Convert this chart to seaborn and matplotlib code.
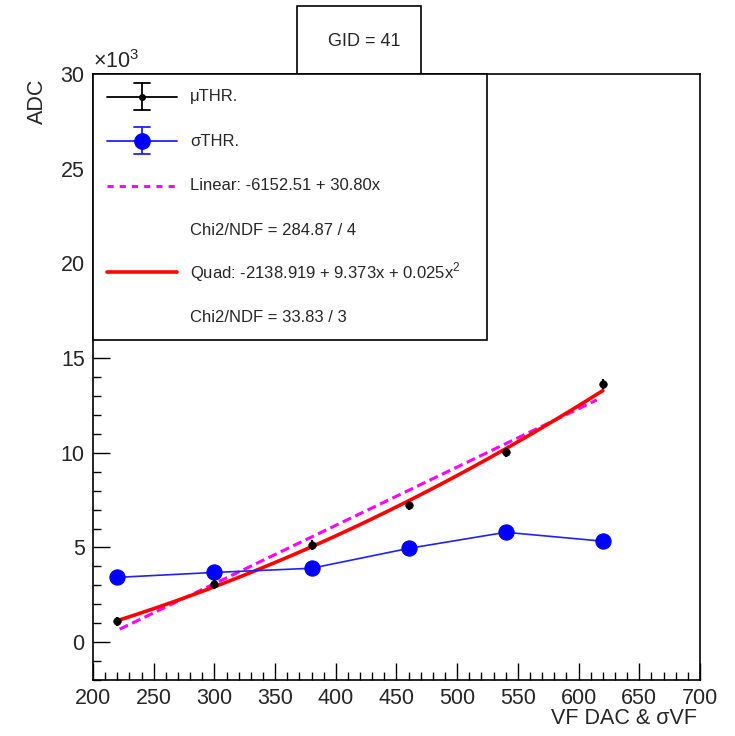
import numpy as np
import pandas as pd
import matplotlib
matplotlib.use("Agg")
import matplotlib.pyplot as plt
import seaborn as sns
from matplotlib.lines import Line2D
from matplotlib.patches import Rectangle
from matplotlib.ticker import MultipleLocator, FuncFormatter

# ---- data ----
vf_dac = [220, 300, 380, 460, 540, 620]
mu_thr = [1100, 3070, 5120, 7220, 10020, 13620]
mu_err = [250, 250, 250, 250, 250, 250]
sigma_thr = [3420, 3680, 3900, 4950, 5800, 5330]

lin_coef = [-6152.51, 30.80]            # a + b x
quad_coef = [-2138.919, 9.373, 0.025]   # a + b x + c x^2
lin_range = [222, 615]
quad_range = [220, 620]

gid_label = "GID = 41"
legend_labels = ["\u03bcTHR.", "\u03c3THR.",
                 "Linear: -6152.51 + 30.80x", "Chi2/NDF = 284.87 / 4",
                 "Quad: -2138.919 + 9.373x + 0.025x$^{2}$", "Chi2/NDF = 33.83 / 3"]

sns.set_style("white")
plt.rcParams["font.family"] = ["Liberation Sans", "DejaVu Sans"]
plt.rcParams["mathtext.fontset"] = "custom"
plt.rcParams["mathtext.rm"] = "Liberation Sans"

W, H = 735, 736
fig = plt.figure(figsize=(W / 100, H / 100), dpi=100)

def fx(px):
    return px / W

def fy(py):
    return 1 - py / H

ax = fig.add_axes([fx(93), fy(680), fx(700) - fx(93), fy(74) - fy(680)])

df = pd.DataFrame({"vf": vf_dac, "mu": mu_thr, "sigma": sigma_thr})

# fit curves
xl = np.linspace(lin_range[0], lin_range[1], 200)
yl = lin_coef[0] + lin_coef[1] * xl
xq = np.linspace(quad_range[0], quad_range[1], 200)
yq = quad_coef[0] + quad_coef[1] * xq + quad_coef[2] * xq ** 2

sns.lineplot(x=xl, y=yl, ax=ax, color="#ff00ff", lw=2.2, linestyle=(0, (3, 1.5)), zorder=3)
sns.lineplot(x=xq, y=yq, ax=ax, color="#ff0000", lw=2.6, zorder=4)

# sigma threshold
sns.lineplot(data=df, x="vf", y="sigma", ax=ax, color="#2020ff", lw=1.2,
             marker="o", markersize=11, markeredgecolor="#0000ff",
             markerfacecolor="#0000ff", zorder=5)

# mean threshold with errors
ax.errorbar(df["vf"], df["mu"], yerr=mu_err, xerr=2, fmt="none", ecolor="black",
            elinewidth=1.6, capsize=0, zorder=6)
sns.scatterplot(data=df, x="vf", y="mu", ax=ax, color="black", s=30,
                marker="o", edgecolor="black", zorder=7)

ax.set_xlim(200, 700)
ax.set_ylim(-2000, 30000)
ax.set_xlabel("")
ax.set_ylabel("")

ax.xaxis.set_major_locator(MultipleLocator(50))
ax.xaxis.set_minor_locator(MultipleLocator(10))
ax.yaxis.set_major_locator(MultipleLocator(5000))
ax.yaxis.set_minor_locator(MultipleLocator(1000))
ax.yaxis.set_major_formatter(FuncFormatter(lambda v, p: f"{v / 1000:g}"))
ax.tick_params(axis="both", which="both", direction="in", labelsize=15.5,
               color="black", bottom=True, left=True, top=False, right=False)
ax.tick_params(axis="x", which="major", length=12, width=1, pad=6)
ax.tick_params(axis="x", which="minor", length=6, width=1)
ax.tick_params(axis="y", which="major", length=12, width=1, pad=6)
ax.tick_params(axis="y", which="minor", length=6, width=1)
for s in ax.spines.values():
    s.set_color("black")
    s.set_linewidth(1.2)

# axis titles
fig.text(fx(697), fy(718), "VF DAC & \u03c3VF", ha="right", va="center", fontsize=15.5)
fig.text(fx(37), fy(101), "ADC", ha="center", va="center", rotation=90, fontsize=15.5)
fig.text(fx(93), fy(62), "\u00d710$^{3}$", ha="left", va="center", fontsize=15.5)

# title box
fig.patches.append(Rectangle((fx(297), fy(74)), fx(421) - fx(297), fy(6) - fy(74),
                             transform=fig.transFigure, fill=True, facecolor="white",
                             edgecolor="black", lw=1.2, zorder=10))
fig.text(fx(364), fy(41), gid_label, ha="center", va="center",
         fontsize=13, zorder=11)

# legend box
fig.patches.append(Rectangle((fx(93), fy(340)), fx(487) - fx(93), fy(74) - fy(340),
                             transform=fig.transFigure, fill=True, facecolor="white",
                             edgecolor="black", lw=1.2, zorder=10))
rows = [97, 141, 186, 231, 272, 318]
hx0, hx1, hxc = fx(107), fx(177), fx(142)

def fline(xs, ys, **kw):
    fig.add_artist(Line2D(xs, ys, transform=fig.transFigure, zorder=11, **kw))

# mu entry
r = rows[0]
fline([hx0, hx1], [fy(r), fy(r)], color="black", lw=1.3)
fline([hxc, hxc], [fy(r - 14), fy(r + 13)], color="black", lw=1.3)
fline([fx(134), fx(150)], [fy(r - 14), fy(r - 14)], color="black", lw=1.3)
fline([fx(134), fx(150)], [fy(r + 13), fy(r + 13)], color="black", lw=1.3)
fline([hxc], [fy(r)], color="black", marker="o", markersize=4, lw=0)
# sigma entry
r = rows[1]
fline([hx0, hx1], [fy(r), fy(r)], color="#2020ff", lw=1.3)
fline([hxc, hxc], [fy(r - 14), fy(r + 13)], color="#2020ff", lw=1.3)
fline([fx(134), fx(150)], [fy(r - 14), fy(r - 14)], color="#2020ff", lw=1.3)
fline([fx(134), fx(150)], [fy(r + 13), fy(r + 13)], color="#2020ff", lw=1.3)
fline([hxc], [fy(r)], color="#0000ff", marker="o", markersize=11, lw=0)
# linear fit
r = rows[2]
fline([hx0, hx1], [fy(r), fy(r)], color="#ff00ff", lw=2.2, linestyle=(0, (2, 2)))
# quad fit
r = rows[4]
fline([hx0, hx1], [fy(r), fy(r)], color="#ff0000", lw=2.6)

for r, lab in zip(rows, legend_labels):
    fig.text(fx(190), fy(r), lab, ha="left", va="center", fontsize=12, zorder=12)

fig.savefig("out.png", dpi=100)
